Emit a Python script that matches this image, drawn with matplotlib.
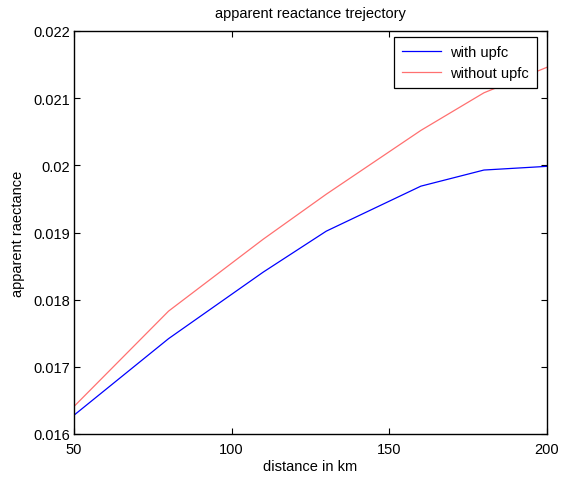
import matplotlib
matplotlib.use("Agg")
import matplotlib.pyplot as plt

distance = [50, 80, 110, 130, 160, 180, 200]
with_upfc = [0.01628, 0.01742, 0.01841, 0.01902, 0.01969, 0.01993, 0.019985]
without_upfc = [0.01641, 0.01783, 0.01890, 0.01957, 0.02052, 0.02108, 0.02146]
xticks = [50, 100, 150, 200]
yticks = [0.016, 0.017, 0.018, 0.019, 0.020, 0.021, 0.022]
ytick_labels = ["0.016", "0.017", "0.018", "0.019", "0.02", "0.021", "0.022"]

plt.rcParams['font.family'] = ['Liberation Sans', 'DejaVu Sans']

fs = 10.5
fig = plt.figure(figsize=(5.65, 4.81), dpi=100)
ax = fig.add_axes([74/565, 46/481, 473/565, 403/481])
ax.plot(distance, with_upfc, color='#0000ff', lw=0.9, label='with upfc')
ax.plot(distance, without_upfc, color='#ff7070', lw=0.9, label='without upfc')
ax.set_xlim(50, 200)
ax.set_ylim(0.016, 0.022)
ax.set_xticks(xticks)
ax.set_yticks(yticks)
ax.set_yticklabels(ytick_labels)
ax.tick_params(direction='in', top=True, right=True, length=4, width=0.8, labelsize=fs)
ax.tick_params(axis='x', pad=6)
ax.tick_params(axis='y', pad=3)
for s in ax.spines.values():
    s.set_linewidth(1.0)
ax.set_xlabel('distance in km', fontsize=fs, labelpad=2)
ax.set_ylabel('apparent raectance', fontsize=fs, labelpad=6)
ax.set_title('apparent reactance trejectory', fontsize=fs, pad=10)
leg = ax.legend(loc='upper right', bbox_to_anchor=(537/565, 443/481),
                bbox_transform=fig.transFigure, borderaxespad=0,
                fontsize=fs, fancybox=False, framealpha=1,
                edgecolor='black', handlelength=2.7,
                borderpad=0.55, labelspacing=0.5, handletextpad=0.6)
leg.get_frame().set_linewidth(0.9)
fig.savefig('out.png', dpi=100)
